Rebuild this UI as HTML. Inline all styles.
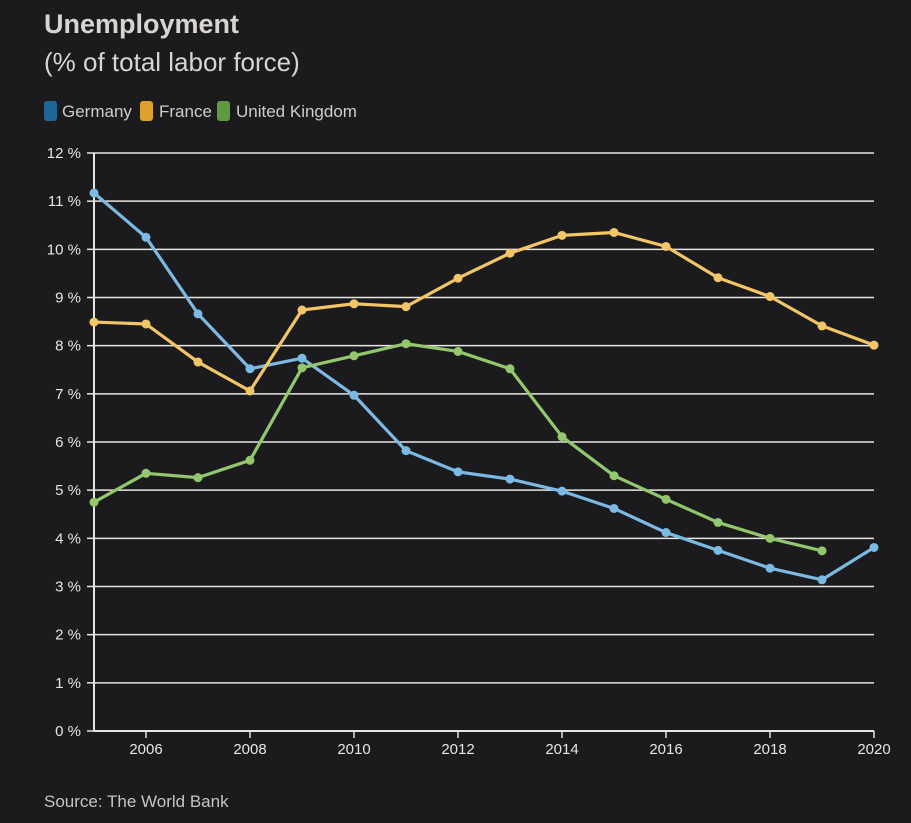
<!DOCTYPE html>
<html><head><meta charset="utf-8"><style>
html,body{margin:0;padding:0;background:#1b1b1d;}
body{width:911px;height:818px;overflow:hidden;font-family:"Liberation Sans",sans-serif;}
</style></head><body>
<svg id="chart" width="911" height="818" xmlns="http://www.w3.org/2000/svg">
<rect width="911" height="818" fill="#1b1b1d"/>
<text x="44" y="33" fill="#d8d4cf" font-size="27" font-weight="bold">Unemployment</text>
<text x="44" y="71" fill="#d8d4cf" font-size="26">(% of total labor force)</text>
<g font-size="17" fill="#d0ccc7">
<rect x="44" y="101" width="13" height="20" rx="3" fill="#1f6596"/>
<text x="62" y="117">Germany</text>
<rect x="140" y="101" width="13" height="20" rx="3" fill="#e0a02c"/>
<text x="159" y="117">France</text>
<rect x="217" y="101" width="13" height="20" rx="3" fill="#5f9b3e"/>
<text x="236" y="117">United Kingdom</text>
</g>
<g id="grid"></g><g id="axes"></g><g id="series"></g>
<text x="44" y="807" fill="#c8c4bf" font-size="17">Source: The World Bank</text>
</svg>
<script>
const years=[2005,2006,2007,2008,2009,2010,2011,2012,2013,2014,2015,2016,2017,2018,2019,2020];
const germany=[11.17,10.25,8.66,7.52,7.74,6.97,5.82,5.38,5.23,4.98,4.62,4.12,3.75,3.38,3.14,3.81];
const france=[8.49,8.45,7.66,7.06,8.74,8.87,8.81,9.40,9.92,10.29,10.35,10.06,9.41,9.02,8.41,8.01];
const uk=[4.75,5.35,5.26,5.62,7.54,7.79,8.04,7.88,7.52,6.11,5.30,4.81,4.33,4.00,3.74];
const yTicks=[0,1,2,3,4,5,6,7,8,9,10,11,12];
const xTicks=[2006,2008,2010,2012,2014,2016,2018,2020];
const NS="http://www.w3.org/2000/svg";
const X0=94,X1=874,Y0=731,Y1=153;
const xs=v=>X0+(v-2005)/(2020-2005)*(X1-X0);
const ys=v=>Y0-(v/12)*(Y0-Y1);
function mk(t,a,p){const e=document.createElementNS(NS,t);for(const k in a)e.setAttribute(k,a[k]);p.appendChild(e);return e;}
const grid=document.getElementById('grid'),axes=document.getElementById('axes'),ser=document.getElementById('series');
yTicks.forEach(t=>{
 const y=ys(t);
 if(t>0){const l=mk('line',{x1:X0,x2:X1,y1:y,y2:y,stroke:'#e8e6e3','stroke-width':1.5},grid);
 
 }
 const tk=mk('line',{x1:X0-7,x2:X0,y1:y,y2:y,stroke:'#e8e6e3','stroke-width':1.5},axes);
 
 
 const tx=mk('text',{x:X0-13,y:y+5,'text-anchor':'end',fill:'#e8e6e3','font-size':15},axes);
 tx.textContent=t+' %';
 
 
});
const ya=mk('line',{x1:X0,x2:X0,y1:Y1,y2:Y0,stroke:'#e8e6e3','stroke-width':2},axes);


const xa=mk('line',{x1:X0,x2:X1,y1:Y0,y2:Y0,stroke:'#e8e6e3','stroke-width':2},axes);


xTicks.forEach(t=>{
 const x=xs(t);
 const tk=mk('line',{x1:x,x2:x,y1:Y0,y2:Y0+7,stroke:'#e8e6e3','stroke-width':1.5},axes);
 
 
 const tx=mk('text',{x:x,y:Y0+23,'text-anchor':'middle',fill:'#e8e6e3','font-size':15},axes);
 tx.textContent=t;
 
 
});
function draw(vals,color,name){
 const pts=vals.map((v,i)=>xs(years[i])+','+ys(v)).join(' ');
 const pl=mk('polyline',{points:pts,fill:'none',stroke:color,'stroke-width':3.2,'stroke-linejoin':'round'},ser);
 
 
 vals.forEach((v,i)=>{
  const c=mk('circle',{cx:xs(years[i]),cy:ys(v),r:4.5,fill:color},ser);
  
  
 });
}
draw(germany,'#7cb9e3','germany');
draw(france,'#f2c566','france');
draw(uk,'#92c76d','uk');
</script>
</body></html>
